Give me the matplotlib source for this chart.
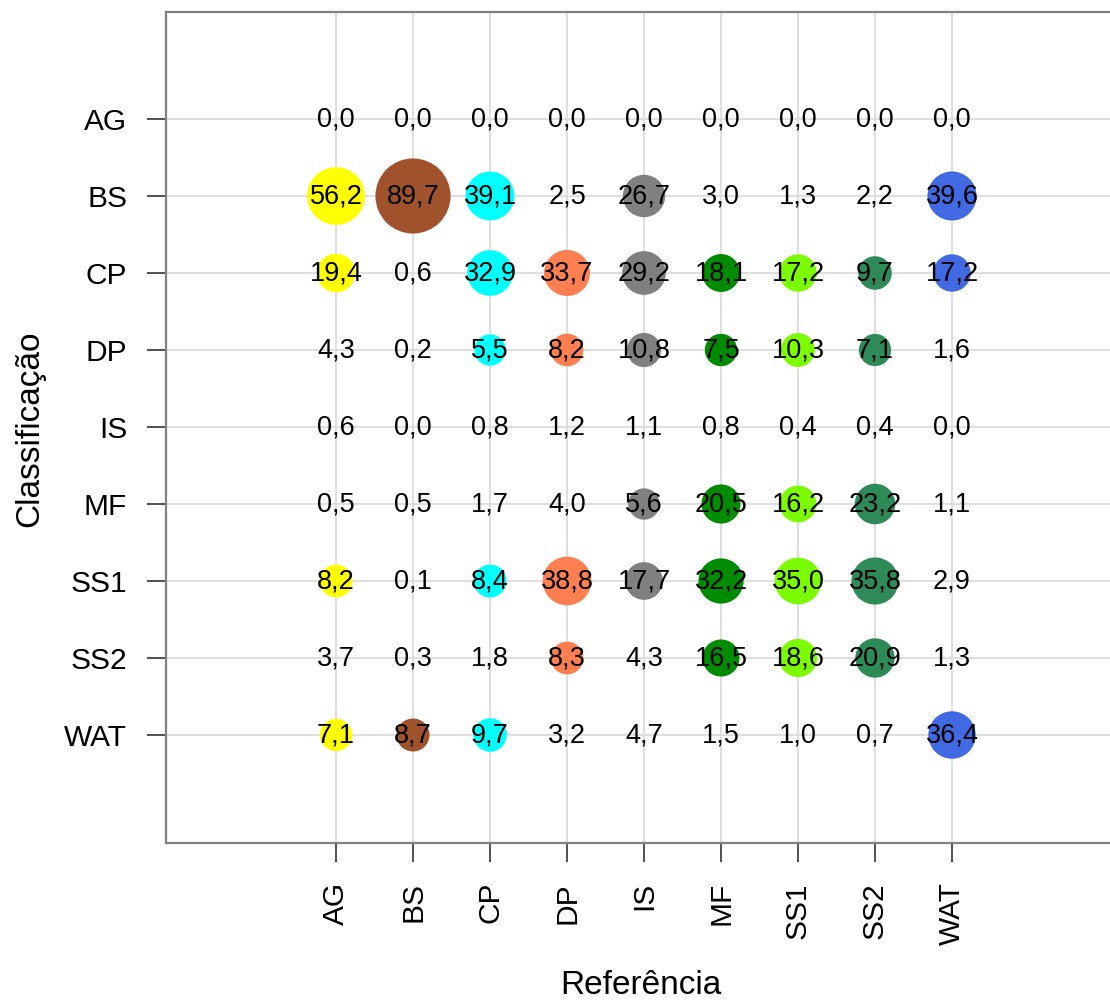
import matplotlib
matplotlib.use("Agg")
import matplotlib.pyplot as plt
import numpy as np

plt.rcParams['font.family'] = ['Liberation Sans', 'DejaVu Sans']

classes = ["AG", "BS", "CP", "DP", "IS", "MF", "SS1", "SS2", "WAT"]
class_colors = ["#FFFF00", "#A0522D", "#00FFFF", "#FF7F50", "#808080",
                "#008B00", "#7CFC00", "#2E8B57", "#4169E1"]

# rows = classificação, columns = referência (percent)
row_AG = [0.0, 0.0, 0.0, 0.0, 0.0, 0.0, 0.0, 0.0, 0.0]
row_BS = [56.2, 89.7, 39.1, 2.5, 26.7, 3.0, 1.3, 2.2, 39.6]
row_CP = [19.4, 0.6, 32.9, 33.7, 29.2, 18.1, 17.2, 9.7, 17.2]
row_DP = [4.3, 0.2, 5.5, 8.2, 10.8, 7.5, 10.3, 7.1, 1.6]
row_IS = [0.6, 0.0, 0.8, 1.2, 1.1, 0.8, 0.4, 0.4, 0.0]
row_MF = [0.5, 0.5, 1.7, 4.0, 5.6, 20.5, 16.2, 23.2, 1.1]
row_SS1 = [8.2, 0.1, 8.4, 38.8, 17.7, 32.2, 35.0, 35.8, 2.9]
row_SS2 = [3.7, 0.3, 1.8, 8.3, 4.3, 16.5, 18.6, 20.9, 1.3]
row_WAT = [7.1, 8.7, 9.7, 3.2, 4.7, 1.5, 1.0, 0.7, 36.4]

matrix = np.array([row_AG, row_BS, row_CP, row_DP, row_IS,
                   row_MF, row_SS1, row_SS2, row_WAT])
min_bubble = 5.0

dpi = 100
fig = plt.figure(figsize=(11.10, 10.02), dpi=dpi)
W, H = 1110, 1002
ax = fig.add_axes([166 / W, 1 - 843 / H, (1112 - 166) / W, (843 - 12) / H])

step = 77.0
ax.set_xlim(-170 / step, (1112 - 336) / step)
ax.set_ylim((843 - 119) / step, -107 / step)

ax.set_axisbelow(True)
ax.grid(True, color="#dcdcdc", linewidth=1.3)

for i in range(len(classes)):
    for j in range(len(classes)):
        v = matrix[i, j]
        if v >= min_bubble:
            d_pt = (28.5 + 0.52 * v) * 72 / dpi
            ax.scatter(j, i, s=d_pt ** 2, color=class_colors[j],
                       edgecolors="none", zorder=2)
        ax.text(j, i, f"{v:.1f}".replace(".", ","), ha="center", va="center",
                fontsize=19.5, color="black", zorder=3)

ax.set_xticks(range(len(classes)))
ax.set_xticklabels(classes, rotation=90, fontsize=21.5)
ax.set_yticks(range(len(classes)))
ax.set_yticklabels(classes, fontsize=21.5)
ax.tick_params(axis="both", length=14, width=1.2, color="#333333")
ax.tick_params(axis="x", pad=14)
ax.tick_params(axis="y", pad=14)

for side in ["left", "bottom", "top"]:
    ax.spines[side].set_color("#808080")
    ax.spines[side].set_linewidth(1.6)
ax.spines["right"].set_visible(False)

fig.text(641 / W, 1 - 986 / H, "Referência", ha="center", va="center", fontsize=24)
fig.text(30 / W, 1 - 429 / H, "Classificação", ha="center", va="center",
         rotation=90, fontsize=24)

fig.savefig("out.png", dpi=dpi)
